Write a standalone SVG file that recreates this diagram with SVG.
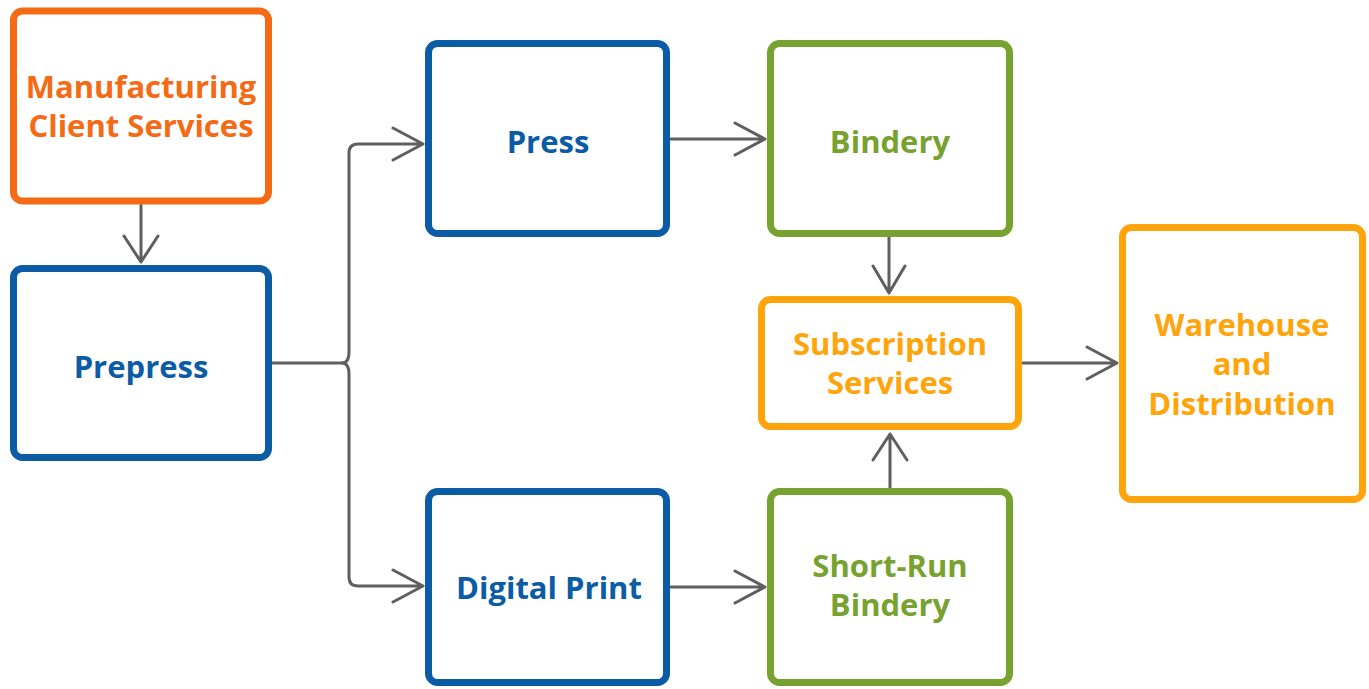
<svg xmlns="http://www.w3.org/2000/svg" width="1369" height="689" viewBox="0 0 1369 689">
<style>
.box{fill:#fff;stroke-width:7}
.o{stroke:#F46A15}.b{stroke:#0B5CA5}.g{stroke:#78A22F}.y{stroke:#FFA40A}
text{font-family:"Open Sans","Noto Sans","Liberation Sans",sans-serif;font-weight:700;font-size:31px;text-anchor:middle}
.to{fill:#F46A15}.tb{fill:#0B5CA5}.tg{fill:#78A22F}.ty{fill:#FFA40A}
.c{fill:none;stroke:#5F5F5F;stroke-width:3;stroke-linecap:round;stroke-linejoin:round}
</style>
<rect width="1369" height="689" fill="#fff"/>
<g id="connectors" class="c">
<path d="M141 205 V262 M124 236 L141 262 L158 236"/>
<path d="M272 363 H342 Q349 363 349 352 V153 Q349 144 358 144 H423 M393 128 L423 144 L393 160"/>
<path d="M342 363 Q349 363 349 374 V577 Q349 586 358 586 H423 M393 570 L423 586 L393 602"/>
<path d="M670 139 H765 M735 123 L765 139 L735 155"/>
<path d="M670 587 H765 M735 571 L765 587 L735 603"/>
<path d="M889 237 V293 M873 266 L889 293 L905 266"/>
<path d="M890 488 V434 M873 460 L890 434 L907 460"/>
<path d="M1022 363 H1117 M1087 347 L1117 363 L1087 379"/>
</g>
<g id="mcs"><rect class="box o" x="13.5" y="11" width="255" height="190" rx="9"/><text class="to" x="141" y="98">Manufacturing</text><text class="to" x="141" y="137">Client Services</text></g>
<g id="prepress"><rect class="box b" x="13.5" y="268.5" width="255" height="189" rx="9"/><text class="tb" x="141" y="378">Prepress</text></g>
<g id="press"><rect class="box b" x="428.5" y="43.5" width="238" height="190" rx="9"/><text class="tb" x="548" y="153">Press</text></g>
<g id="digital"><rect class="box b" x="428.5" y="491.5" width="238" height="191" rx="9"/><text class="tb" x="549" y="599">Digital Print</text></g>
<g id="bindery"><rect class="box g" x="770.5" y="43.5" width="239" height="190" rx="9"/><text class="tg" x="890" y="153">Bindery</text></g>
<g id="shortrun"><rect class="box g" x="770.5" y="491.5" width="239" height="191" rx="9"/><text class="tg" x="890" y="577">Short-Run</text><text class="tg" x="890" y="616">Bindery</text></g>
<g id="subscription"><rect class="box y" x="761.5" y="299.5" width="257" height="127" rx="9"/><text class="ty" x="890" y="355">Subscription</text><text class="ty" x="890" y="394">Services</text></g>
<g id="warehouse"><rect class="box y" x="1122.5" y="227.5" width="240" height="272" rx="9"/><text class="ty" x="1242" y="336">Warehouse</text><text class="ty" x="1242" y="375">and</text><text class="ty" x="1242" y="415">Distribution</text></g>
</svg>
